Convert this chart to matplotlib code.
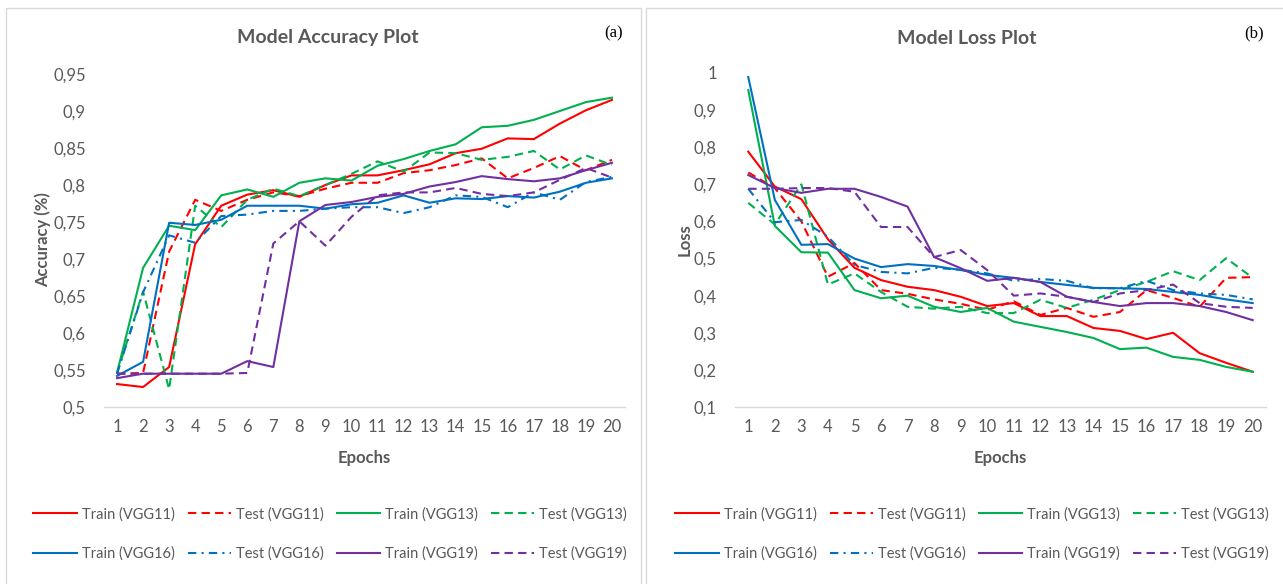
import matplotlib
matplotlib.use("Agg")
import matplotlib.pyplot as plt
from matplotlib.patches import Rectangle
from matplotlib.lines import Line2D
from matplotlib.ticker import FuncFormatter

plt.rcParams['font.family'] = ['Lato', 'DejaVu Sans']

epochs = list(range(1, 21))

acc_train_vgg11 = [0.531, 0.527, 0.554, 0.720, 0.772, 0.787, 0.793, 0.784, 0.800, 0.813,
                   0.813, 0.820, 0.828, 0.843, 0.849, 0.863, 0.862, 0.883, 0.901, 0.915]
acc_test_vgg11 = [0.545, 0.546, 0.710, 0.780, 0.765, 0.780, 0.790, 0.785, 0.795, 0.803,
                  0.803, 0.816, 0.820, 0.827, 0.836, 0.809, 0.823, 0.839, 0.820, 0.834]
acc_train_vgg13 = [0.546, 0.688, 0.745, 0.739, 0.786, 0.794, 0.784, 0.803, 0.809, 0.806,
                   0.826, 0.835, 0.846, 0.855, 0.878, 0.880, 0.888, 0.900, 0.912, 0.918]
acc_test_vgg13 = [0.546, 0.656, 0.524, 0.772, 0.743, 0.780, 0.795, 0.785, 0.800, 0.815,
                  0.832, 0.818, 0.844, 0.843, 0.834, 0.838, 0.846, 0.821, 0.840, 0.827]
acc_train_vgg16 = [0.542, 0.561, 0.749, 0.746, 0.753, 0.772, 0.772, 0.772, 0.768, 0.774,
                   0.776, 0.786, 0.776, 0.782, 0.781, 0.785, 0.783, 0.791, 0.803, 0.809]
acc_test_vgg16 = [0.545, 0.655, 0.732, 0.722, 0.758, 0.760, 0.765, 0.765, 0.768, 0.770,
                  0.770, 0.762, 0.770, 0.786, 0.784, 0.770, 0.790, 0.780, 0.804, 0.811]
acc_train_vgg19 = [0.539, 0.545, 0.545, 0.545, 0.545, 0.562, 0.554, 0.751, 0.773, 0.777,
                   0.784, 0.788, 0.798, 0.804, 0.812, 0.808, 0.805, 0.809, 0.820, 0.830]
acc_test_vgg19 = [0.545, 0.545, 0.545, 0.545, 0.545, 0.546, 0.721, 0.751, 0.718, 0.757,
                  0.786, 0.790, 0.790, 0.796, 0.788, 0.785, 0.790, 0.807, 0.823, 0.810]

loss_train_vgg11 = [0.788, 0.694, 0.660, 0.552, 0.475, 0.442, 0.424, 0.415, 0.397, 0.372,
                    0.380, 0.345, 0.345, 0.313, 0.305, 0.283, 0.300, 0.245, 0.219, 0.195]
loss_test_vgg11 = [0.732, 0.690, 0.600, 0.451, 0.488, 0.415, 0.405, 0.390, 0.378, 0.362,
                   0.385, 0.348, 0.367, 0.343, 0.356, 0.415, 0.394, 0.370, 0.448, 0.450]
loss_train_vgg13 = [0.954, 0.588, 0.517, 0.516, 0.415, 0.393, 0.400, 0.370, 0.356, 0.367,
                    0.330, 0.316, 0.302, 0.286, 0.256, 0.260, 0.235, 0.227, 0.208, 0.195]
loss_test_vgg13 = [0.650, 0.592, 0.700, 0.430, 0.460, 0.410, 0.370, 0.365, 0.370, 0.353,
                   0.353, 0.389, 0.367, 0.389, 0.415, 0.437, 0.466, 0.442, 0.501, 0.448]
loss_train_vgg16 = [0.989, 0.658, 0.537, 0.539, 0.500, 0.477, 0.485, 0.480, 0.469, 0.456,
                    0.448, 0.437, 0.429, 0.421, 0.420, 0.418, 0.410, 0.402, 0.390, 0.380]
loss_test_vgg16 = [0.688, 0.598, 0.604, 0.559, 0.483, 0.464, 0.460, 0.475, 0.470, 0.460,
                   0.440, 0.445, 0.440, 0.420, 0.420, 0.440, 0.415, 0.406, 0.402, 0.390]
loss_train_vgg19 = [0.725, 0.690, 0.677, 0.688, 0.688, 0.666, 0.640, 0.504, 0.474, 0.440,
                    0.448, 0.437, 0.397, 0.383, 0.372, 0.380, 0.380, 0.372, 0.356, 0.334]
loss_test_vgg19 = [0.688, 0.688, 0.690, 0.690, 0.680, 0.585, 0.585, 0.504, 0.523, 0.469,
                   0.400, 0.406, 0.397, 0.383, 0.406, 0.415, 0.430, 0.380, 0.370, 0.367]

labels = ["Train (VGG11)", "Test (VGG11)", "Train (VGG13)", "Test (VGG13)",
          "Train (VGG16)", "Test (VGG16)", "Train (VGG19)", "Test (VGG19)"]
colors = ["#FF0000", "#FF0000", "#00B050", "#00B050",
          "#0070C0", "#0070C0", "#7030A0", "#7030A0"]
styles = ["-", (0, (4, 2.5)), "-", (0, (4, 2.5)),
          "-", (0, (4, 2.5, 1, 2.5)), "-", (0, (4, 2.5))]

acc_series = [acc_train_vgg11, acc_test_vgg11, acc_train_vgg13, acc_test_vgg13,
              acc_train_vgg16, acc_test_vgg16, acc_train_vgg19, acc_test_vgg19]
loss_series = [loss_train_vgg11, loss_test_vgg11, loss_train_vgg13, loss_test_vgg13,
               loss_train_vgg16, loss_test_vgg16, loss_train_vgg19, loss_test_vgg19]

W, H = 1283, 584
fig = plt.figure(figsize=(W / 100, H / 100), dpi=100)
GRAY = "#595959"

# panel borders
fig.patches.append(Rectangle((6 / W, -0.1), (641 - 6) / W, 1.1 - 8 / H,
                             transform=fig.transFigure, fill=False,
                             edgecolor="#D9D9D9", lw=1.0))
fig.patches.append(Rectangle((646 / W, -0.1), (1300 - 646) / W, 1.1 - 8 / H,
                             transform=fig.transFigure, fill=False,
                             edgecolor="#D9D9D9", lw=1.0))


def comma(v, pos):
    s = ("%.2f" % v).rstrip("0").rstrip(".")
    return s.replace(".", ",")


def make_axes(rect, series, ylim, yticks, title, ylabel, tag, title_x, ylabel_x, tag_x,
              leg_x):
    ax = fig.add_axes(rect)
    for s, c, ls, lab in zip(series, colors, styles, labels):
        ax.plot(epochs, s, color=c, linestyle=ls, lw=1.5, label=lab)
    ax.set_xlim(0.5, 20.5)
    ax.set_ylim(*ylim)
    ax.set_xticks(epochs)
    ax.set_yticks(yticks)
    ax.yaxis.set_major_formatter(FuncFormatter(comma))
    for sp in ["top", "right", "left"]:
        ax.spines[sp].set_visible(False)
    ax.spines["bottom"].set_color("#D9D9D9")
    ax.spines["bottom"].set_linewidth(1.0)
    ax.tick_params(axis="both", length=0, colors=GRAY, labelsize=12)
    ax.tick_params(axis="x", pad=9)
    ax.tick_params(axis="y", pad=13)
    fig.text(title_x / W, 1 - 38 / H, title, ha="center", va="center",
             fontsize=14, fontweight="bold", color=GRAY)
    fig.text(tag_x / W, 1 - 33 / H, tag, ha="center", va="center",
             fontsize=12, family="Liberation Serif", color="black")
    fig.text(ylabel_x / W, 1 - 240 / H, ylabel, ha="center", va="center",
             rotation=90, fontsize=12, fontweight="bold", color=GRAY)
    ax_center = rect[0] + rect[2] / 2
    fig.text(ax_center, 1 - 458 / H, "Epochs", ha="center", va="center",
             fontsize=12, fontweight="bold", color=GRAY)
    handles = [Line2D([], [], color=c, linestyle=ls, lw=1.5) for c, ls in zip(colors, styles)]
    order = [0, 4, 1, 5, 2, 6, 3, 7]
    leg = fig.legend([handles[i] for i in order], [labels[i] for i in order],
                     loc="center", bbox_to_anchor=(leg_x / W, 1 - 534 / H),
                     ncol=4, frameon=False, fontsize=10.5, handlelength=3.0,
                     handletextpad=0.3, columnspacing=0.9, labelspacing=1.75)
    for t in leg.get_texts():
        t.set_color(GRAY)
    return ax


make_axes([104 / W, 1 - 407 / H, (625 - 104) / W, (407 - 74) / H], acc_series,
          (0.5, 0.95), [0.5, 0.55, 0.6, 0.65, 0.7, 0.75, 0.8, 0.85, 0.9, 0.95],
          "Model Accuracy Plot", "Accuracy (%)", "(a)", 328, 43, 614, 330)
make_axes([735 / W, 1 - 407 / H, (1266 - 735) / W, (407 - 73) / H], loss_series,
          (0.1, 1.0), [0.1, 0.2, 0.3, 0.4, 0.5, 0.6, 0.7, 0.8, 0.9, 1.0],
          "Model Loss Plot", "Loss", "(b)", 967, 685, 1254, 972)

fig.savefig("out.png", dpi=100)
